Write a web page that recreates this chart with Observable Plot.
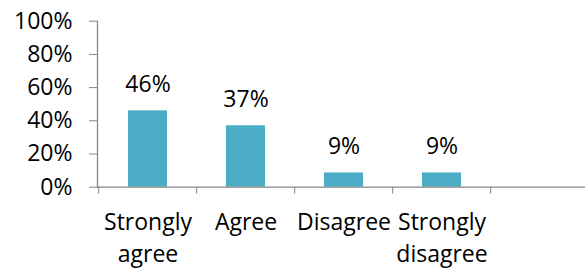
<!DOCTYPE html>
<html><head><meta charset="utf-8">
<script src="https://cdn.jsdelivr.net/npm/d3@7"></script>
<script src="https://cdn.jsdelivr.net/npm/@observablehq/plot@0.6"></script>
<style>body{margin:0;background:#fff}</style>
</head><body><div id="chart"></div>
<script>
const categories = ["Strongly agree", "Agree", "Disagree", "Strongly disagree"];
const values = [46, 37, 8.6, 8.6];
const yTicks = [0, 20, 40, 60, 80, 100];
const slots = [...categories, " "];
const data = categories.map((c, i) => ({category: c, value: values[i]}));

const chart = Plot.plot({
  width: 585, height: 271,
  marginLeft: 97, marginRight: 0, marginTop: 20.7, marginBottom: 84.3,
  style: {fontFamily: "'Open Sans'", fontSize: "23px", color: "#000", background: "#fff"},
  x: {domain: slots, range: [97, 590], paddingInner: 0.6, paddingOuter: 0.3, axis: null},
  y: {domain: [0, 100], axis: null},
  marks: [
    Plot.barY(data, {x: "category", y: "value", fill: "#4BACC6"}),
    Plot.text(data, {x: "category", y: "value", text: d => Math.round(d.value) + "%", lineAnchor: "bottom", dy: -19, fill: "#000"}),
    Plot.axisY(yTicks, {tickSize: 8, tickPadding: 17, tickFormat: d => d + "%", stroke: "#868686", fill: "#000", label: null}),
    Plot.axisX(slots, {tickSize: 7, tickFormat: () => "", dx: -49.3, stroke: "#868686", label: null}),
    Plot.text(categories, {x: d => d, frameAnchor: "bottom", lineAnchor: "top", dy: 19.5, text: d => d.replace(" ", "\n"), lineHeight: 1.4, fill: "#000"}),
    Plot.frame({anchor: "left", stroke: "#868686", strokeWidth: 1.3}),
    Plot.frame({anchor: "bottom", stroke: "#868686", strokeWidth: 1.3})
  ]
});
document.getElementById("chart").appendChild(chart);
</script>
</body></html>
